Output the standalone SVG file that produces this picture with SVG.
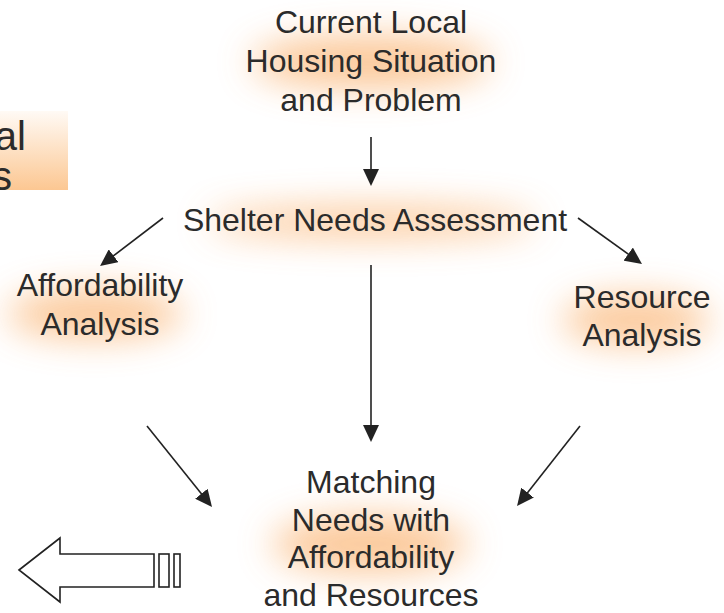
<svg xmlns="http://www.w3.org/2000/svg" width="724" height="613" viewBox="0 0 724 613">
<style>
.t{font-family:"Liberation Sans",Arial,sans-serif;font-size:32px;fill:#2b2b2b;text-anchor:middle}
.big{font-family:"Liberation Sans",Arial,sans-serif;font-size:40px;fill:#2b2b2b;text-anchor:end}
.glow{fill:#fbbd84;opacity:0.85;filter:url(#soft)}
.c{stroke:#222;stroke-width:1.6;fill:none;marker-end:url(#ah)}
.ol{stroke:#222;stroke-width:1.6;fill:#fff}
</style>
<defs>
<filter id="soft" x="-60%" y="-150%" width="220%" height="400%"><feGaussianBlur stdDeviation="18"/></filter>
<linearGradient id="boxg" x1="0" y1="0" x2="0" y2="1"><stop offset="0" stop-color="#fffaf5"/><stop offset="1" stop-color="#fcc792"/></linearGradient>
<marker id="ah" viewBox="0 0 17 16" refX="9" refY="8" markerWidth="17" markerHeight="16" markerUnits="userSpaceOnUse" orient="auto"><path d="M0,0 L17,8 L0,16 z" fill="#222"/></marker>
</defs>
<rect width="724" height="613" fill="#fff"/>
<g id="title-fragment">
<rect x="0" y="111" width="68" height="79" fill="url(#boxg)"/>
<text class="big" x="26" y="150">al</text>
<text class="big" x="12" y="190">s</text>
</g>
<g id="current">
<ellipse class="glow" cx="371" cy="62" rx="120" ry="26"/>
<text class="t" x="371" y="33">Current Local</text>
<text class="t" x="371" y="72">Housing Situation</text>
<text class="t" x="371" y="111">and Problem</text>
</g>
<g id="shelter">
<ellipse class="glow" cx="372" cy="222" rx="165" ry="15"/>
<text class="t" x="375" y="231">Shelter Needs Assessment</text>
</g>
<g id="affordability">
<ellipse class="glow" cx="95" cy="314" rx="88" ry="24"/>
<text class="t" x="100" y="296">Affordability</text>
<text class="t" x="100" y="335">Analysis</text>
</g>
<g id="resource">
<ellipse class="glow" cx="636" cy="320" rx="74" ry="24"/>
<text class="t" x="642" y="308">Resource</text>
<text class="t" x="642" y="346">Analysis</text>
</g>
<g id="matching">
<ellipse class="glow" cx="370" cy="544" rx="98" ry="28"/>
<text class="t" x="371" y="493">Matching</text>
<text class="t" x="371" y="531">Needs with</text>
<text class="t" x="371" y="568">Affordability</text>
<text class="t" x="371" y="606">and Resources</text>
</g>
<g id="connectors">
<line class="c" x1="371" y1="137" x2="371" y2="178"/>
<line class="c" x1="163" y1="218" x2="106.4" y2="261.2"/>
<line class="c" x1="578" y1="218" x2="635.5" y2="259.3"/>
<line class="c" x1="371" y1="265" x2="371" y2="434"/>
<line class="c" x1="147" y1="426" x2="207" y2="500.8"/>
<line class="c" x1="580" y1="426" x2="522" y2="499.7"/>
</g>
<g id="back-arrow">
<path class="ol" d="M19,570 L60,538 L60,554 L154,554 L154,587 L60,587 L60,602 Z"/>
<rect class="ol" x="159" y="554" width="10" height="33"/>
<rect class="ol" x="174" y="554" width="6" height="33"/>
</g>
</svg>
